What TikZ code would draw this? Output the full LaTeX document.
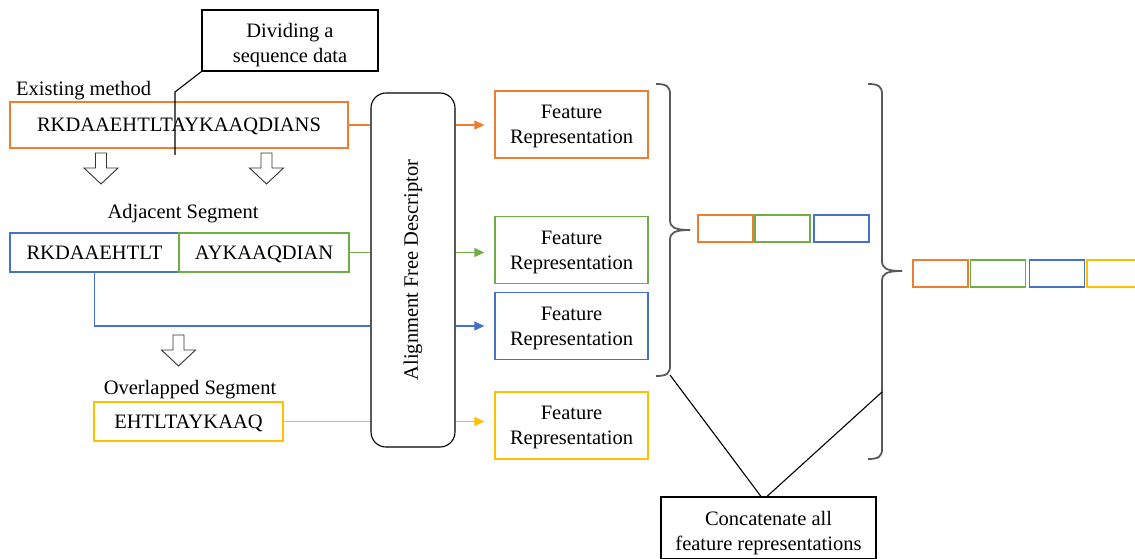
\documentclass[tikz,border=0pt]{standalone}
\usepackage{fontspec}
\setmainfont{Liberation Serif}
\usetikzlibrary{arrows.meta,positioning,calc}
\definecolor{segorange}{HTML}{ED7D31}
\definecolor{seggreen}{HTML}{70AD47}
\definecolor{segblue}{HTML}{4472C4}
\definecolor{segyellow}{HTML}{FFC000}
\tikzset{
  >={Triangle[length=10pt,width=9pt]},
  line/.style={line width=1.1pt},
  txt/.style={font=\fontsize{20.5}{25}\selectfont},
  seq/.style={draw,line width=1.3pt,inner sep=0pt,txt,align=center,text depth=0pt},
  feat/.style={seq,minimum width=153pt,minimum height=67pt},
  chip/.style={draw,line width=1.3pt,minimum width=55pt,minimum height=27pt,inner sep=0pt},
  callout/.style={draw,line width=1.1pt,inner sep=0pt,txt,align=center,text height=44pt,text depth=0pt},
  brk/.style={line width=1.8pt,draw=black!65},
  hollowdown/.pic={
    \draw[line width=0.9pt,draw=black!80,fill=white]
      (-5.5,0) -- (5.5,0) -- (5.5,15) -- (17,15) -- (0,31) -- (-17,15) -- (-5.5,15) -- cycle;
  }
}

\begin{document}
\begin{tikzpicture}[x=1pt,y=-1pt]
  \useasboundingbox (0,0) rectangle (1135,559);

  % Input sequence and its two kinds of segments
  \node[seq,draw=segorange,minimum width=338pt,minimum height=46pt] (whole) at (179,125) {RKDAAEHTLTAYKAAQDIANS};
  \node[txt,anchor=base west,inner sep=0pt] (exist) at (16,96) {Existing method};

  \node[seq,draw=segblue,minimum width=169pt,minimum height=39pt]  (segA) at (94.5,252.5) {RKDAAEHTLT};
  \node[seq,draw=seggreen,minimum width=170pt,minimum height=39pt] (segB) at (264,252.5) {AYKAAQDIAN};
  \node[txt,anchor=base,inner sep=0pt] (adjlabel) at (183,218) {Adjacent Segment};

  \node[seq,draw=segyellow,minimum width=189pt,minimum height=39pt] (segC) at (188.5,421.5) {EHTLTAYKAAQ};
  \node[txt,anchor=base,inner sep=0pt] (ovlabel) at (190,394) {Overlapped Segment};

  \pic at (101,153) {hollowdown};
  \pic at (266.5,153) {hollowdown};
  \pic at (178.5,335) {hollowdown};

  % Callout on the cut
  \node[callout,minimum width=176pt,minimum height=61pt] (divide) at (290,40.5) {Dividing a\\sequence data};
  \coordinate (elbow) at (175,92);
  \coordinate (cut) at (175,155);
  \draw[line] (divide.south west) -- (elbow) -- (cut);

  % Descriptor block
  \node[draw,line width=1.1pt,rounded corners=15pt,minimum width=84pt,minimum height=354pt] (desc) at (413,270) {};
  \node[txt,rotate=90] (desclabel) at (desc.center) {Alignment Free Descriptor};

  % Feature representations
  \node[feat,draw=segorange] (featO) at (571.5,124.5) {Feature\\Representation};
  \node[feat,draw=seggreen]  (featG) at (571.5,250)   {Feature\\Representation};
  \node[feat,draw=segblue]   (featB) at (571.5,326)   {Feature\\Representation};
  \node[feat,draw=segyellow] (featY) at (571.5,425.5) {Feature\\Representation};

  \draw[line,segorange] (whole.east) -- (whole.east -| desc.west);
  \draw[line,seggreen] (segB.east) -- (segB.east -| desc.west);
  \draw[line,segblue] (segA.south) |- (featB -| desc.west);
  \draw[line,segyellow] (segC.east) -- (segC.east -| desc.west);

  \foreach \s/\f/\c in {whole/featO/segorange, segB/featG/seggreen, featB/featB/segblue, segC/featY/segyellow}{
    \draw[line,\c,->,shorten >=10pt] (desc.east |- \s) -- (\f.west |- \s);
  }

  % Braces
  \foreach \bx/\tp/\bt/\md in {670/84/376/230, 882/84/459/271}{
    \draw[brk] (\bx-14,\tp) .. controls (\bx-4,\tp) and (\bx,\tp+2) .. (\bx,\tp+10)
      -- (\bx,\md-10) .. controls (\bx,\md-3) and (\bx+4,\md) .. (\bx+20,\md);
    \draw[brk] (\bx+20,\md) .. controls (\bx+4,\md) and (\bx,\md+3) .. (\bx,\md+10)
      -- (\bx,\bt-10) .. controls (\bx,\bt-2) and (\bx-4,\bt) .. (\bx-14,\bt);
  }

  % Concatenated vectors
  \foreach \c/\x [count=\i] in {segorange/725.5, seggreen/782.5, segblue/841.5}{
    \node[chip,draw=\c] (ca\i) at (\x,228.5) {};
  }
  \foreach \c/\x [count=\i] in {segorange/940.5, seggreen/998, segblue/1057, segyellow/1114.5}{
    \node[chip,draw=\c] (cb\i) at (\x,273.5) {};
  }

  % Bottom callout
  \node[callout,minimum width=215pt,minimum height=62pt] (concat) at (768.5,528) {Concatenate all\\feature representations};
  \coordinate (brA) at (670,375);
  \coordinate (brB) at (882,392);
  \draw[line] (brA) -- ([xshift=-7.5pt]concat.north);
  \draw[line] (brB) -- ([xshift=-1.5pt]concat.north);
\end{tikzpicture}
\end{document}
